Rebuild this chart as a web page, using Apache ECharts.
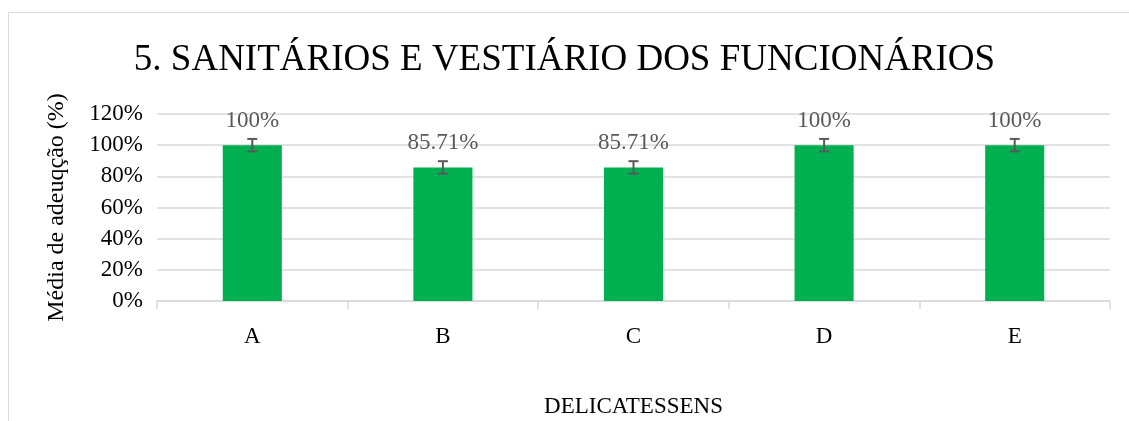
<!DOCTYPE html>
<html>
<head>
<meta charset="utf-8">
<script src="https://cdn.jsdelivr.net/npm/echarts@6/dist/echarts.min.js"></script>
<style>
  body { margin: 0; background: #fff; overflow: hidden; }
  #frame { position: absolute; left: 8px; top: 12px; width: 1200px; height: 500px; border-left: 1px solid #d9d9d9; border-top: 1px solid #d9d9d9; }
  #chart { position: absolute; left: 0; top: 0; width: 1129px; height: 421px; }
</style>
</head>
<body>
<div id="frame"></div>
<div id="chart"></div>
<script>
const categories = ['A', 'B', 'C', 'D', 'E']
const values = [100, 85.71, 85.71, 100, 100]
const labels = ['100%', '85.71%', '85.71%', '100%', '100%']
const errors = [4, 4, 4, 4, 4]
const yTicks = [0, 20, 40, 60, 80, 100, 120]

const serif = '"Liberation Serif", "Times New Roman", serif'
const myChart = echarts.init(document.getElementById('chart'))

const option = {
  animation: false,
  title: {
    text: '5. SANITÁRIOS E VESTIÁRIO DOS FUNCIONÁRIOS',
    left: 'center',
    top: 37,
    textStyle: { fontFamily: serif, fontSize: 37, fontWeight: 'normal', color: '#000' }
  },
  grid: { left: 157, right: 19, top: 114, bottom: 120 },
  xAxis: {
    type: 'category',
    data: categories,
    name: 'DELICATESSENS',
    nameLocation: 'middle',
    nameGap: 94,
    nameTextStyle: { fontFamily: serif, fontSize: 23, color: '#000' },
    axisLine: { lineStyle: { color: '#d9d9d9', width: 1.5 } },
    axisTick: { show: true, length: 8, lineStyle: { color: '#d9d9d9', width: 1.5 } },
    axisLabel: { fontFamily: serif, fontSize: 23, color: '#000', margin: 24 }
  },
  yAxis: {
    type: 'value',
    min: yTicks[0],
    max: yTicks[yTicks.length - 1],
    interval: 20,
    name: 'Média de adeuqção (%)',
    nameLocation: 'middle',
    nameGap: 88,
    nameTextStyle: { fontFamily: serif, fontSize: 24, color: '#000' },
    axisLine: { show: false },
    axisTick: { show: false },
    splitLine: { lineStyle: { color: '#d9d9d9', width: 1.5 } },
    axisLabel: { fontFamily: serif, fontSize: 23, color: '#000', margin: 14, formatter: '{value}%' }
  },
  series: [
    {
      type: 'bar',
      data: values,
      barWidth: '31%',
      itemStyle: { color: '#00b050' },
      label: {
        show: true,
        position: 'top',
        distance: 13,
        fontFamily: serif,
        fontSize: 23,
        color: '#595959',
        formatter: p => labels[p.dataIndex]
      }
    },
    {
      type: 'custom',
      data: values.map((v, i) => [i, v - errors[i], v + errors[i]]),
      z: 5,
      renderItem: function(params, api) {
        const lo = api.coord([api.value(0), api.value(1)])
        const hi = api.coord([api.value(0), api.value(2)])
        const hw = 5
        const style = { stroke: '#595959', lineWidth: 2 }
        return {
          type: 'group',
          children: [
            { type: 'line', shape: { x1: lo[0], y1: lo[1], x2: hi[0], y2: hi[1] }, style },
            { type: 'line', shape: { x1: lo[0] - hw, y1: lo[1], x2: lo[0] + hw, y2: lo[1] }, style },
            { type: 'line', shape: { x1: hi[0] - hw, y1: hi[1], x2: hi[0] + hw, y2: hi[1] }, style }
          ]
        }
      }
    }
  ]
}
myChart.setOption(option)
</script>
</body>
</html>
